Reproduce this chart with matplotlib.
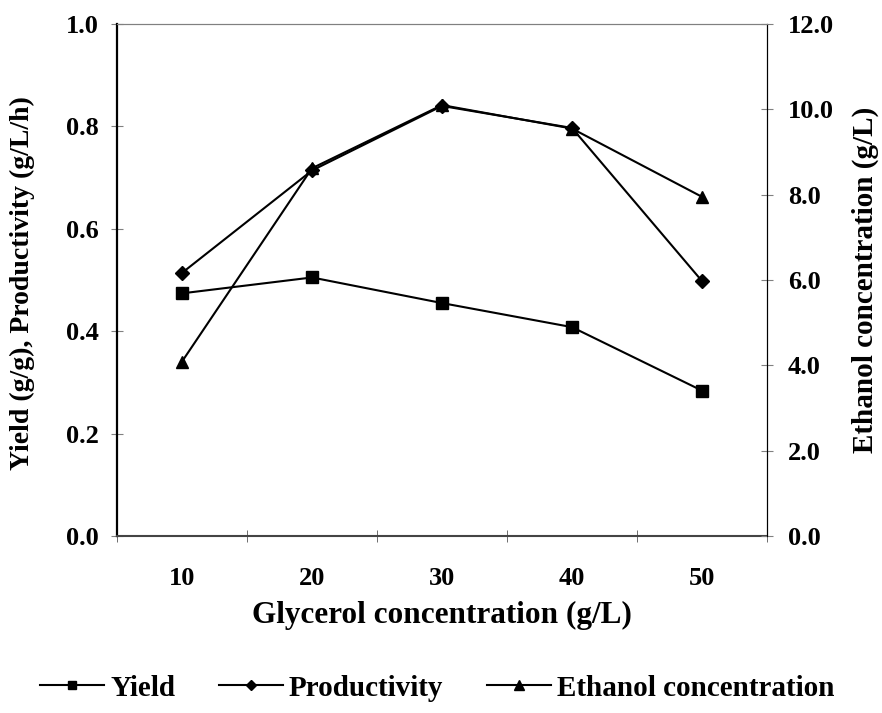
import matplotlib.pyplot as plt

plt.rcParams['font.family'] = ['Liberation Serif', 'DejaVu Serif']
plt.rcParams['font.weight'] = 'bold'

glycerol = ['10', '20', '30', '40', '50']
yield_gg = [0.474, 0.505, 0.455, 0.408, 0.284]
productivity = [0.514, 0.714, 0.840, 0.797, 0.498]
ethanol = [4.09, 8.62, 10.10, 9.55, 7.95]

left_ticks = [0, 0.2, 0.4, 0.6, 0.8, 1.0]
right_ticks = [0, 2, 4, 6, 8, 10, 12]

x = list(range(len(glycerol)))

fig = plt.figure(figsize=(8.82, 7.13), dpi=100)
ax = fig.add_axes([0.1327, 0.2482, 0.7369, 0.7181])
ax2 = ax.twinx()

l1, = ax.plot(x, yield_gg, color='black', lw=1.5, marker='s', ms=8, label='Yield')
l2, = ax.plot(x, productivity, color='black', lw=1.5, marker='D', ms=7, label='Productivity')
l3, = ax2.plot(x, ethanol, color='black', lw=1.5, marker='^', ms=9, label='Ethanol concentration')

# axes
ax.set_xlim(-0.5, 4.5)
ax.set_ylim(0, 1.0)
ax2.set_ylim(0, 12.0)
ax.set_yticks(left_ticks)
ax.set_yticklabels(['%.1f' % v for v in left_ticks], fontsize=19, fontweight='bold')
ax2.set_yticks(right_ticks)
ax2.set_yticklabels(['%.1f' % v for v in right_ticks], fontsize=19, fontweight='bold')
ax.set_xticks(x)
ax.set_xticklabels(glycerol, fontsize=19, fontweight='bold')
ax.set_xticks([i - 0.5 for i in range(6)], minor=True)
ax.tick_params(axis='x', which='major', length=0, pad=22)
ax.tick_params(axis='x', which='minor', direction='inout', length=8, color='#555555')
ax.tick_params(axis='y', direction='inout', length=8, color='#808080', pad=9)
ax2.tick_params(axis='y', direction='inout', length=8, color='#808080', pad=11)

ax.spines['top'].set_color('#808080')
ax2.spines['top'].set_color('#808080')
ax.spines['left'].set_linewidth(1.6)
ax.spines['bottom'].set_color('#444444')
ax.spines['bottom'].set_linewidth(1.5)
ax2.spines['bottom'].set_visible(False)
ax2.spines['left'].set_visible(False)

ax.set_xlabel('Glycerol concentration (g/L)', fontsize=22.5, fontweight='bold')
ax.set_ylabel('Yield (g/g), Productivity (g/L/h)', fontsize=20, fontweight='bold')
ax2.set_ylabel('Ethanol concentration (g/L)', fontsize=21, fontweight='bold')
ax.xaxis.set_label_coords(0.5, -0.156)
ax.yaxis.set_label_coords(-0.146, 0.495)
ax2.yaxis.set_label_coords(1.151, 0.5)
ax.xaxis.label.set_va('center')
ax.yaxis.label.set_va('center')
ax2.yaxis.label.set_va('center')

fig.legend(handles=[l1, l2, l3], loc='center', bbox_to_anchor=(0.496, 0.035), ncol=3,
           frameon=False, fontsize=21, handlelength=2.2, handletextpad=0.2, columnspacing=1.5,
           markerscale=0.8)

plt.savefig('out.png', dpi=100)
